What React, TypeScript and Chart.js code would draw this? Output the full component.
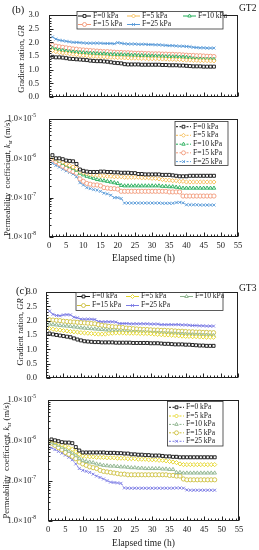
import React, { useEffect, useRef } from "react";
import { Chart, registerables } from "chart.js";
import { drawPoint } from "chart.js/helpers";

Chart.register(...registerables);

const SERIF = '"Liberation Serif", "Times New Roman", Times, serif';

// ---------- data ----------
const HOURS = [
  1, 2, 3, 4, 5, 6, 7, 8, 9, 10, 11, 12,
  13, 14, 15, 16, 17, 18, 19, 20, 21, 22, 23, 24,
  25, 26, 27, 28, 29, 30, 31, 32, 33, 34, 35, 36,
  37, 38, 39, 40, 41, 42, 43, 44, 45, 46, 47, 48,
];

const SERIES_LABELS = ["F=0 kPa", "F=5 kPa", "F=10 kPa", "F=15 kPa", "F=25 kPa"];
const GR_TICK_VALUES = [0, 0.5, 1, 1.5, 2, 2.5, 3];
const K_TICK_VALUES = [1e-8, 1e-7, 1e-6, 1e-5];
const K_TICK_BASE = "1.0\u00d710";
const K_TICK_EXP = ["-8", "-7", "-6", "-5"];
const X_TITLE = "Elapsed time (h)";

// (b) GT2 - gradient ratio
const B_GR_F0 = [
  1.47, 1.45, 1.45, 1.44, 1.42, 1.40, 1.39, 1.38, 1.37, 1.36, 1.35, 1.33,
  1.32, 1.31, 1.31, 1.30, 1.29, 1.27, 1.25, 1.24, 1.23, 1.20, 1.19, 1.19,
  1.19, 1.19, 1.18, 1.18, 1.18, 1.18, 1.18, 1.18, 1.17, 1.17, 1.16, 1.16,
  1.16, 1.15, 1.15, 1.14, 1.13, 1.12, 1.12, 1.12, 1.11, 1.11, 1.11, 1.11,
];
const B_GR_F5 = [
  1.70, 1.66, 1.63, 1.61, 1.60, 1.58, 1.56, 1.55, 1.53, 1.52, 1.51, 1.50,
  1.49, 1.48, 1.47, 1.47, 1.46, 1.45, 1.45, 1.44, 1.44, 1.43, 1.43, 1.42,
  1.42, 1.42, 1.41, 1.41, 1.40, 1.40, 1.40, 1.40, 1.39, 1.39, 1.38, 1.38,
  1.37, 1.37, 1.36, 1.35, 1.35, 1.34, 1.34, 1.33, 1.33, 1.33, 1.32, 1.32,
];
const B_GR_F10 = [
  1.78, 1.74, 1.72, 1.70, 1.68, 1.66, 1.65, 1.64, 1.63, 1.62, 1.61, 1.60,
  1.60, 1.59, 1.58, 1.58, 1.57, 1.56, 1.56, 1.55, 1.55, 1.54, 1.54, 1.53,
  1.53, 1.52, 1.52, 1.51, 1.51, 1.50, 1.50, 1.49, 1.49, 1.48, 1.48, 1.47,
  1.47, 1.46, 1.46, 1.45, 1.43, 1.40, 1.39, 1.39, 1.38, 1.38, 1.38, 1.38,
];
const B_GR_F15 = [
  1.90, 1.86, 1.84, 1.82, 1.80, 1.78, 1.76, 1.75, 1.73, 1.72, 1.71, 1.70,
  1.69, 1.68, 1.67, 1.66, 1.66, 1.65, 1.64, 1.63, 1.63, 1.62, 1.62, 1.61,
  1.60, 1.60, 1.60, 1.59, 1.59, 1.58, 1.58, 1.58, 1.57, 1.57, 1.56, 1.56,
  1.55, 1.55, 1.54, 1.53, 1.52, 1.52, 1.51, 1.51, 1.50, 1.49, 1.49, 1.48,
];
const B_GR_F25 = [
  2.20, 2.12, 2.08, 2.06, 2.04, 2.02, 2.00, 2.00, 1.99, 1.98, 1.97, 1.97,
  1.97, 1.97, 1.97, 1.96, 1.96, 1.96, 1.95, 1.99, 1.97, 1.95, 1.94, 1.94,
  1.94, 1.93, 1.93, 1.93, 1.92, 1.92, 1.91, 1.91, 1.90, 1.89, 1.88, 1.88,
  1.87, 1.86, 1.86, 1.85, 1.84, 1.82, 1.81, 1.80, 1.80, 1.79, 1.79, 1.79,
];

// (b) GT2 - permeability coefficient (m/s)
const B_K_F0 = [
  1.2e-6, 1.0e-6, 1.0e-6, 9.5e-7, 8.8e-7, 8.6e-7, 8.4e-7, 7.2e-7, 5.2e-7, 4.8e-7, 4.6e-7, 4.5e-7,
  4.5e-7, 4.5e-7, 4.6e-7, 4.6e-7, 4.5e-7, 4.5e-7, 4.4e-7, 4.4e-7, 4.3e-7, 4.3e-7, 4.3e-7, 4.2e-7,
  4.2e-7, 4.0e-7, 4.0e-7, 3.9e-7, 3.9e-7, 3.9e-7, 3.9e-7, 3.9e-7, 3.8e-7, 3.8e-7, 3.8e-7, 3.7e-7,
  3.6e-7, 3.5e-7, 3.5e-7, 3.5e-7, 3.6e-7, 3.6e-7, 3.6e-7, 3.6e-7, 3.6e-7, 3.6e-7, 3.6e-7, 3.6e-7,
];
const B_K_F5 = [
  1.05e-6, 9.5e-7, 8.8e-7, 8.0e-7, 7.2e-7, 6.6e-7, 6.0e-7, 5.5e-7, 4.6e-7, 4.3e-7, 4.1e-7, 3.9e-7,
  3.8e-7, 3.7e-7, 3.6e-7, 3.6e-7, 3.5e-7, 3.5e-7, 3.4e-7, 3.4e-7, 3.4e-7, 3.3e-7, 3.3e-7, 3.3e-7,
  3.3e-7, 3.3e-7, 3.2e-7, 3.2e-7, 3.2e-7, 3.1e-7, 3.1e-7, 3.0e-7, 2.9e-7, 2.8e-7, 2.8e-7, 2.7e-7,
  2.7e-7, 2.6e-7, 2.6e-7, 2.5e-7, 2.5e-7, 2.5e-7, 2.5e-7, 2.5e-7, 2.5e-7, 2.5e-7, 2.5e-7, 2.5e-7,
];
const B_K_F10 = [
  1.1e-6, 9.5e-7, 8.5e-7, 7.5e-7, 6.8e-7, 6.2e-7, 5.6e-7, 5.0e-7, 4.2e-7, 3.8e-7, 3.5e-7, 3.3e-7,
  3.1e-7, 2.9e-7, 2.8e-7, 2.7e-7, 2.6e-7, 2.5e-7, 2.4e-7, 2.3e-7, 2.05e-7, 2.0e-7, 2.0e-7, 2.0e-7,
  2.0e-7, 2.0e-7, 2.0e-7, 2.0e-7, 2.0e-7, 2.0e-7, 2.0e-7, 2.0e-7, 1.95e-7, 1.95e-7, 1.9e-7, 1.9e-7,
  1.85e-7, 1.8e-7, 1.75e-7, 1.75e-7, 1.75e-7, 1.75e-7, 1.75e-7, 1.75e-7, 1.75e-7, 1.75e-7, 1.75e-7, 1.75e-7,
];
const B_K_F15 = [
  9.5e-7, 8.2e-7, 7.2e-7, 6.3e-7, 5.6e-7, 5.0e-7, 4.6e-7, 4.2e-7, 3.0e-7, 2.6e-7, 2.3e-7, 2.2e-7,
  2.1e-7, 2.1e-7, 2.0e-7, 1.8e-7, 1.75e-7, 1.7e-7, 1.7e-7, 1.65e-7, 1.45e-7, 1.45e-7, 1.45e-7, 1.45e-7,
  1.45e-7, 1.45e-7, 1.45e-7, 1.45e-7, 1.45e-7, 1.45e-7, 1.45e-7, 1.45e-7, 1.45e-7, 1.45e-7, 1.4e-7, 1.4e-7,
  1.4e-7, 1.4e-7, 1.1e-7, 1.1e-7, 1.1e-7, 1.1e-7, 1.1e-7, 1.1e-7, 1.1e-7, 1.1e-7, 1.1e-7, 1.1e-7,
];
const B_K_F25 = [
  7.5e-7, 6.6e-7, 6.0e-7, 5.3e-7, 4.8e-7, 4.4e-7, 4.0e-7, 3.4e-7, 2.4e-7, 2.1e-7, 1.8e-7, 1.7e-7,
  1.6e-7, 1.55e-7, 1.45e-7, 1.3e-7, 1.25e-7, 1.15e-7, 1.0e-7, 1.0e-7, 9.5e-8, 7.3e-8, 7.3e-8, 7.3e-8,
  7.3e-8, 7.3e-8, 7.3e-8, 7.3e-8, 7.3e-8, 7.3e-8, 7.3e-8, 7.3e-8, 7.2e-8, 7.2e-8, 7.2e-8, 7.2e-8,
  7.5e-8, 7.6e-8, 7.4e-8, 6.6e-8, 6.6e-8, 6.6e-8, 6.6e-8, 6.5e-8, 6.5e-8, 6.5e-8, 6.5e-8, 6.5e-8,
];

// (c) GT3 - gradient ratio
const C_GR_F0 = [
  1.55, 1.52, 1.50, 1.48, 1.46, 1.44, 1.42, 1.38, 1.34, 1.31, 1.28, 1.27,
  1.26, 1.25, 1.25, 1.24, 1.24, 1.24, 1.24, 1.23, 1.23, 1.23, 1.23, 1.23,
  1.22, 1.22, 1.22, 1.22, 1.22, 1.21, 1.21, 1.21, 1.20, 1.19, 1.19, 1.18,
  1.17, 1.17, 1.17, 1.16, 1.16, 1.15, 1.14, 1.13, 1.13, 1.12, 1.12, 1.12,
];
const C_GR_F5 = [
  1.72, 1.70, 1.68, 1.67, 1.65, 1.64, 1.62, 1.61, 1.60, 1.58, 1.57, 1.56,
  1.55, 1.54, 1.53, 1.53, 1.53, 1.55, 1.56, 1.57, 1.57, 1.57, 1.56, 1.56,
  1.56, 1.56, 1.55, 1.55, 1.55, 1.54, 1.53, 1.52, 1.51, 1.50, 1.50, 1.49,
  1.48, 1.47, 1.46, 1.45, 1.45, 1.44, 1.44, 1.43, 1.43, 1.42, 1.42, 1.42,
];
const C_GR_F10 = [
  1.88, 1.86, 1.85, 1.83, 1.82, 1.81, 1.80, 1.78, 1.77, 1.75, 1.74, 1.73,
  1.72, 1.71, 1.70, 1.69, 1.68, 1.67, 1.66, 1.65, 1.64, 1.63, 1.62, 1.61,
  1.60, 1.60, 1.59, 1.59, 1.58, 1.57, 1.57, 1.56, 1.56, 1.55, 1.55, 1.54,
  1.54, 1.53, 1.53, 1.52, 1.51, 1.51, 1.50, 1.50, 1.49, 1.49, 1.48, 1.48,
];
const C_GR_F15 = [
  2.03, 2.02, 2.01, 2.00, 1.98, 1.97, 1.96, 1.95, 1.94, 1.93, 1.92, 1.91,
  1.90, 1.89, 1.86, 1.84, 1.82, 1.80, 1.79, 1.78, 1.77, 1.76, 1.74, 1.73,
  1.72, 1.71, 1.70, 1.69, 1.69, 1.68, 1.67, 1.67, 1.66, 1.66, 1.65, 1.65,
  1.64, 1.63, 1.63, 1.62, 1.61, 1.61, 1.60, 1.60, 1.59, 1.59, 1.58, 1.58,
];
const C_GR_F25 = [
  2.33, 2.22, 2.18, 2.17, 2.20, 2.21, 2.20, 2.12, 2.10, 2.05, 2.05, 2.05,
  2.05, 2.04, 1.97, 1.96, 1.96, 1.96, 1.96, 1.95, 1.90, 1.90, 1.90, 1.89,
  1.89, 1.89, 1.89, 1.89, 1.89, 1.88, 1.88, 1.88, 1.86, 1.86, 1.86, 1.86,
  1.86, 1.86, 1.85, 1.85, 1.84, 1.83, 1.83, 1.82, 1.82, 1.81, 1.81, 1.81,
];

// (c) GT3 - permeability coefficient (m/s)
const C_K_F0 = [
  1.05e-6, 1.0e-6, 9.5e-7, 9.0e-7, 8.8e-7, 8.8e-7, 8.5e-7, 6.8e-7, 5.6e-7, 5.0e-7, 5.0e-7, 5.0e-7,
  5.0e-7, 5.0e-7, 5.0e-7, 5.0e-7, 4.9e-7, 4.9e-7, 4.9e-7, 4.8e-7, 4.8e-7, 4.7e-7, 4.7e-7, 4.5e-7,
  4.5e-7, 4.4e-7, 4.4e-7, 4.3e-7, 4.3e-7, 4.2e-7, 4.2e-7, 4.2e-7, 4.1e-7, 4.0e-7, 4.0e-7, 3.9e-7,
  3.9e-7, 3.8e-7, 3.8e-7, 3.8e-7, 3.8e-7, 3.8e-7, 3.8e-7, 3.8e-7, 3.8e-7, 3.8e-7, 3.8e-7, 3.8e-7,
];
const C_K_F5 = [
  1.0e-6, 9.2e-7, 8.5e-7, 7.8e-7, 7.2e-7, 6.6e-7, 6.0e-7, 5.2e-7, 4.5e-7, 4.1e-7, 4.0e-7, 3.9e-7,
  3.9e-7, 3.8e-7, 3.8e-7, 3.8e-7, 3.7e-7, 3.7e-7, 3.7e-7, 3.6e-7, 3.6e-7, 3.6e-7, 3.5e-7, 3.5e-7,
  3.5e-7, 3.4e-7, 3.4e-7, 3.4e-7, 3.3e-7, 3.3e-7, 3.3e-7, 3.2e-7, 3.2e-7, 3.1e-7, 3.0e-7, 2.9e-7,
  2.8e-7, 2.6e-7, 2.5e-7, 2.5e-7, 2.5e-7, 2.5e-7, 2.5e-7, 2.5e-7, 2.5e-7, 2.5e-7, 2.5e-7, 2.5e-7,
];
const C_K_F10 = [
  9.0e-7, 8.3e-7, 7.6e-7, 6.8e-7, 6.0e-7, 5.4e-7, 4.9e-7, 4.3e-7, 3.6e-7, 3.2e-7, 3.0e-7, 2.9e-7,
  2.8e-7, 2.6e-7, 2.5e-7, 2.4e-7, 2.35e-7, 2.3e-7, 2.3e-7, 2.25e-7, 2.2e-7, 2.2e-7, 2.15e-7, 2.1e-7,
  2.1e-7, 2.05e-7, 2.05e-7, 2.0e-7, 2.0e-7, 2.0e-7, 2.0e-7, 2.0e-7, 1.95e-7, 1.95e-7, 1.9e-7, 1.9e-7,
  1.6e-7, 1.6e-7, 1.55e-7, 1.55e-7, 1.55e-7, 1.55e-7, 1.55e-7, 1.55e-7, 1.55e-7, 1.55e-7, 1.55e-7, 1.55e-7,
];
const C_K_F15 = [
  8.5e-7, 7.5e-7, 6.6e-7, 5.8e-7, 5.0e-7, 4.5e-7, 4.0e-7, 3.5e-7, 2.9e-7, 2.6e-7, 2.4e-7, 2.2e-7,
  2.1e-7, 2.0e-7, 1.8e-7, 1.7e-7, 1.65e-7, 1.6e-7, 1.55e-7, 1.5e-7, 1.45e-7, 1.45e-7, 1.4e-7, 1.4e-7,
  1.4e-7, 1.4e-7, 1.4e-7, 1.4e-7, 1.4e-7, 1.4e-7, 1.4e-7, 1.4e-7, 1.4e-7, 1.4e-7, 1.35e-7, 1.35e-7,
  1.3e-7, 1.3e-7, 1.1e-7, 1.05e-7, 1.05e-7, 1.05e-7, 1.05e-7, 1.05e-7, 1.05e-7, 1.05e-7, 1.05e-7, 1.05e-7,
];
const C_K_F25 = [
  6.5e-7, 5.9e-7, 5.3e-7, 4.8e-7, 4.3e-7, 3.8e-7, 3.3e-7, 2.6e-7, 2.0e-7, 1.8e-7, 1.7e-7, 1.6e-7,
  1.45e-7, 1.3e-7, 1.2e-7, 1.1e-7, 1.0e-7, 9.2e-8, 9.0e-8, 8.8e-8, 8.6e-8, 6.6e-8, 6.5e-8, 6.5e-8,
  6.5e-8, 6.5e-8, 6.5e-8, 6.5e-8, 6.5e-8, 6.5e-8, 6.5e-8, 6.5e-8, 6.5e-8, 6.5e-8, 6.5e-8, 6.5e-8,
  6.6e-8, 6.6e-8, 6.5e-8, 5.9e-8, 5.8e-8, 5.8e-8, 5.8e-8, 5.8e-8, 5.8e-8, 5.8e-8, 5.8e-8, 5.8e-8,
];

// ---------- styles ----------
const POINT_STYLES = ["rect", "rectRot", "triangle", "circle", "crossRot"];
const COLORS_B = ["#111111", "#F6BC55", "#22AD58", "#F29A7A", "#5A9BD8"];
const COLORS_C = ["#111111", "#E4D526", "#8DB38D", "#CDBF3E", "#7C7CE4"];

type Seg = { t: string; italic?: boolean; sub?: boolean };
type PanelDef = {
  id: string;
  top: number;
  height: number;
  area: { left: number; top: number; right: number; bottom: number };
  kind: "gr" | "k";
  series: number[][];
  colors: string[];
  dashed: boolean;
  showX: boolean;
  legendBox: [number, number, number, number];
  legendItems: [number, number][];
  sample: number;
  titleX: number;
  titleDy: number;
  yLabelGap: number;
  xTitleDy: number;
  label?: { text: string; x: number; y: number };
  tag?: { text: string; x: number; y: number };
};

const GR_TITLE: Seg[] = [{ t: "Gradient ration, " }, { t: "GR", italic: true }];
const K_TITLE: Seg[] = [
  { t: "Permeability  coefficient, " },
  { t: "k", italic: true },
  { t: "sr", sub: true },
  { t: " (m/s)" },
];

const PANELS: PanelDef[] = [
  {
    id: "b-gr", top: 0, height: 112,
    area: { left: 49, top: 11, right: 238, bottom: 107 },
    kind: "gr", series: [B_GR_F0, B_GR_F5, B_GR_F10, B_GR_F15, B_GR_F25],
    colors: COLORS_B, dashed: false, showX: false,
    legendBox: [77, 11.5, 223, 29],
    legendItems: [[78, 16], [127, 16], [183, 16], [78, 24.5], [127, 24.5]],
    sample: 13, titleX: 22, titleDy: 3, yLabelGap: 10, xTitleDy: 0,
    label: { text: "(b)", x: 12, y: 10 }, tag: { text: "GT2", x: 239, y: 8 },
  },
  {
    id: "b-k", top: 112, height: 158,
    area: { left: 49, top: 7, right: 238, bottom: 125 },
    kind: "k", series: [B_K_F0, B_K_F5, B_K_F10, B_K_F15, B_K_F25],
    colors: COLORS_B, dashed: true, showX: true,
    legendBox: [175, 9.5, 228, 53.5],
    legendItems: [[176, 14.7], [176, 23.3], [176, 32.2], [176, 40.8], [176, 49.6]],
    sample: 15, titleX: 8, titleDy: 0, yLabelGap: 13, xTitleDy: 21,
  },
  {
    id: "c-gr", top: 270, height: 122,
    area: { left: 46, top: 22, right: 238, bottom: 118 },
    kind: "gr", series: [C_GR_F0, C_GR_F5, C_GR_F10, C_GR_F15, C_GR_F25],
    colors: COLORS_C, dashed: false, showX: false,
    legendBox: [76, 22.5, 223, 40.5],
    legendItems: [[77, 26.5], [126, 26.5], [180, 26.5], [77, 35.5], [126, 35.5]],
    sample: 13, titleX: 21, titleDy: -3, yLabelGap: 9, xTitleDy: 0,
    label: { text: "(c)", x: 16, y: 21 }, tag: { text: "GT3", x: 239, y: 18 },
  },
  {
    id: "c-k", top: 392, height: 158,
    area: { left: 48, top: 8, right: 239, bottom: 129 },
    kind: "k", series: [C_K_F0, C_K_F5, C_K_F10, C_K_F15, C_K_F25],
    colors: COLORS_C, dashed: true, showX: true,
    legendBox: [167.5, 9.5, 223, 54],
    legendItems: [[169, 15.3], [169, 24], [169, 32.4], [169, 40.8], [169, 49.3]],
    sample: 15, titleX: 7, titleDy: 0, yLabelGap: 12, xTitleDy: 22,
  },
];

// ---------- drawing helpers ----------
function drawSegs(ctx: CanvasRenderingContext2D, segs: Seg[], size: number, cx: number, cy: number, rotate: boolean) {
  const parts = segs.map((s) => {
    const fs = s.sub ? size * 0.68 : size;
    const font = `${s.italic ? "italic " : ""}${fs}px ${SERIF}`;
    ctx.font = font;
    return { ...s, font, w: ctx.measureText(s.t).width };
  });
  const total = parts.reduce((a, b) => a + b.w, 0);
  ctx.save();
  ctx.translate(cx, cy);
  if (rotate) ctx.rotate(-Math.PI / 2);
  ctx.textBaseline = "middle";
  ctx.textAlign = "left";
  ctx.fillStyle = "#1a1a1a";
  let x = -total / 2;
  for (const pt of parts) {
    ctx.font = pt.font;
    ctx.fillText(pt.t, x, pt.sub ? size * 0.28 : 0);
    x += pt.w;
  }
  ctx.restore();
}

function decorPlugin(p: PanelDef) {
  return {
    id: "decor",
    afterDraw(chart: any) {
      const ctx: CanvasRenderingContext2D = chart.ctx;
      const ca = chart.chartArea;
      const xs = chart.scales.x;
      const ys = chart.scales.y;
      const L = Math.round(ca.left) + 0.5;
      const R = Math.round(ca.right) - 0.5;
      const T = Math.round(ca.top) + 0.5;
      const B = Math.round(ca.bottom) - 0.5;
      ctx.save();
      ctx.strokeStyle = "#222";
      ctx.lineWidth = 1;
      ctx.setLineDash([]);
      ctx.beginPath();
      for (let t = 0; t <= 55; t += 1) {
        const x = Math.round(xs.getPixelForValue(t)) + 0.5;
        const len = t % 5 === 0 ? 4 : 2;
        ctx.moveTo(x, B);
        ctx.lineTo(x, B - len);
      }
      if (p.kind === "gr") {
        for (let i = 0; i <= 30; i++) {
          const y = Math.round(ys.getPixelForValue(i / 10)) + 0.5;
          const len = i % 5 === 0 ? 4 : 2;
          ctx.moveTo(L, y);
          ctx.lineTo(L + len, y);
        }
      } else {
        for (let e = -8; e < -5; e++) {
          for (let m = 1; m <= 9; m++) {
            const y = Math.round(ys.getPixelForValue(m * Math.pow(10, e))) + 0.5;
            const len = m === 1 ? 4 : 2;
            ctx.moveTo(L, y);
            ctx.lineTo(L + len, y);
          }
        }
      }
      ctx.stroke();
      ctx.strokeRect(L, T, R - L, B - T);

      // log tick labels with superscript exponents
      if (p.kind === "k") {
        ctx.fillStyle = "#1a1a1a";
        ctx.textBaseline = "middle";
        ctx.textAlign = "left";
        K_TICK_VALUES.forEach((v, i) => {
          const y = ys.getPixelForValue(v);
          ctx.font = `8.5px ${SERIF}`;
          const w1 = ctx.measureText(K_TICK_BASE).width;
          ctx.font = `5.5px ${SERIF}`;
          const w2 = ctx.measureText(K_TICK_EXP[i]).width;
          const x0 = ca.left - p.yLabelGap - w1 - w2;
          ctx.font = `8.5px ${SERIF}`;
          ctx.fillText(K_TICK_BASE, x0, y);
          ctx.font = `5.5px ${SERIF}`;
          ctx.fillText(K_TICK_EXP[i], x0 + w1, y - 3);
        });
      }

      // axis titles
      const cy = (ca.top + ca.bottom) / 2 + p.titleDy;
      drawSegs(ctx, p.kind === "gr" ? GR_TITLE : K_TITLE, 8.5, p.titleX, cy, true);
      if (p.showX) {
        drawSegs(ctx, [{ t: X_TITLE }], 9.5, (ca.left + ca.right) / 2, ca.bottom + p.xTitleDy, false);
      }

      // panel label and tag
      ctx.fillStyle = "#111";
      ctx.textBaseline = "middle";
      ctx.textAlign = "left";
      if (p.label) {
        ctx.font = `10.5px ${SERIF}`;
        ctx.fillText(p.label.text, p.label.x, p.label.y);
      }
      if (p.tag) {
        ctx.font = `9.5px ${SERIF}`;
        ctx.fillText(p.tag.text, p.tag.x, p.tag.y);
      }

      // legend
      const [bx0, by0, bx1, by1] = p.legendBox;
      ctx.fillStyle = "#fff";
      ctx.fillRect(bx0, by0, bx1 - bx0, by1 - by0);
      ctx.strokeStyle = "#333";
      ctx.lineWidth = 0.8;
      ctx.strokeRect(bx0, by0, bx1 - bx0, by1 - by0);
      p.legendItems.forEach(([lx, ly], i) => {
        const ds = chart.data.datasets[i];
        ctx.strokeStyle = ds.borderColor;
        ctx.lineWidth = 1;
        ctx.setLineDash(p.dashed ? [2, 1.5] : []);
        ctx.beginPath();
        ctx.moveTo(lx, ly);
        ctx.lineTo(lx + p.sample, ly);
        ctx.stroke();
        ctx.setLineDash([]);
        ctx.fillStyle = "#fff";
        ctx.strokeStyle = ds.borderColor;
        ctx.lineWidth = 0.9;
        drawPoint(ctx, { pointStyle: ds.pointStyle, radius: 2, borderWidth: 0.9, rotation: 0 } as any, lx + p.sample / 2, ly);
        ctx.fillStyle = "#1a1a1a";
        ctx.font = `7.5px ${SERIF}`;
        ctx.textBaseline = "middle";
        ctx.textAlign = "left";
        ctx.fillText(SERIES_LABELS[i], lx + p.sample + 2, ly);
      });
      ctx.restore();
    },
  };
}

function buildConfig(p: PanelDef): any {
  const datasets = p.series.map((vals, i) => ({
    label: SERIES_LABELS[i],
    data: HOURS.map((h, j) => ({ x: h, y: vals[j] })),
    borderColor: p.colors[i],
    backgroundColor: "#ffffff",
    pointBackgroundColor: "#ffffff",
    pointBorderColor: p.colors[i],
    pointStyle: POINT_STYLES[i],
    pointRadius: 2.1,
    pointBorderWidth: 0.9,
    borderWidth: 1,
    borderDash: p.dashed ? [2, 1.5] : [],
    tension: 0,
    fill: false,
  }));
  const tickFont = { family: SERIF, size: 8.5 };
  return {
    type: "line",
    data: { datasets },
    options: {
      responsive: false,
      animation: false,
      devicePixelRatio: 1,
      events: [],
      layout: { padding: { top: p.area.top, right: 259 - p.area.right, bottom: 0, left: 0 } },
      plugins: { legend: { display: false }, tooltip: { enabled: false } },
      scales: {
        x: {
          type: "linear",
          min: 0,
          max: 55,
          ticks: { display: p.showX, stepSize: 5, font: tickFont, color: "#1a1a1a", padding: 4, maxRotation: 0, autoSkip: false },
          grid: { display: false, drawTicks: false },
          border: { display: false },
          afterFit: (s: any) => { s.height = p.height - p.area.bottom; },
        },
        y:
          p.kind === "gr"
            ? {
                type: "linear",
                min: 0,
                max: 3,
                afterBuildTicks: (s: any) => { s.ticks = GR_TICK_VALUES.map((v) => ({ value: v })); },
                ticks: { font: tickFont, color: "#1a1a1a", padding: p.yLabelGap, callback: (v: any) => Number(v).toFixed(1) },
                grid: { display: false, drawTicks: false },
                border: { display: false },
                afterFit: (s: any) => { s.width = p.area.left; },
              }
            : {
                type: "logarithmic",
                min: 1e-8,
                max: 1e-5,
                ticks: { display: false },
                grid: { display: false, drawTicks: false },
                border: { display: false },
                afterFit: (s: any) => { s.width = p.area.left; },
              },
      },
    },
    plugins: [decorPlugin(p)],
  };
}

function PanelChart({ p }: { p: PanelDef }) {
  const ref = useRef<HTMLCanvasElement | null>(null);
  useEffect(() => {
    if (!ref.current) return;
    const chart = new Chart(ref.current, buildConfig(p));
    return () => chart.destroy();
  }, [p]);
  return (
    <canvas
      ref={ref}
      width={259}
      height={p.height}
      style={{ position: "absolute", left: 0, top: p.top, width: 259, height: p.height, display: "block" }}
    />
  );
}

export default function App() {
  return (
    <div style={{ position: "absolute", left: 0, top: 0, width: 259, height: 550, background: "#fff", overflow: "hidden" }}>
      {PANELS.map((p) => (
        <PanelChart key={p.id} p={p} />
      ))}
    </div>
  );
}
